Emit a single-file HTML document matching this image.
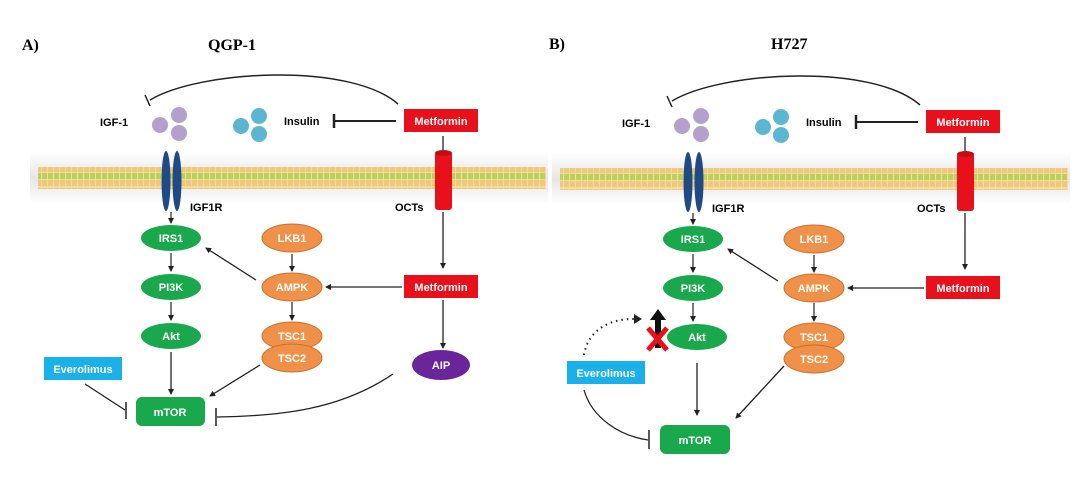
<!DOCTYPE html>
<html><head><meta charset="utf-8"><style>
html,body{margin:0;padding:0;background:#fff;}
svg{display:block;}
.t{font-family:"Liberation Sans",Arial,sans-serif;font-weight:bold;font-size:11px;}
.w{fill:#fff;font-family:"Liberation Sans",Arial,sans-serif;font-weight:bold;font-size:11px;text-anchor:middle;}
.h{font-family:"Liberation Serif",serif;font-weight:bold;font-size:16px;}
</style></head><body>
<svg width="1080" height="479" viewBox="0 0 1080 479" xmlns="http://www.w3.org/2000/svg">
<defs>
<marker id="ar" markerWidth="6" markerHeight="6" refX="5" refY="3" orient="auto" markerUnits="userSpaceOnUse"><path d="M0,0 L6,3 L0,6 z" fill="#222"/></marker>
<pattern id="mem" width="6" height="22" patternUnits="userSpaceOnUse">
<rect width="6" height="22" fill="#f3dca0"/>
<rect x="0" y="0" width="5" height="3" fill="#b9d35a"/>
<rect x="0" y="4" width="5" height="6" fill="#f1c77c"/>
<rect x="0" y="12" width="5" height="6" fill="#f1c77c"/>
<rect x="0" y="19" width="5" height="3" fill="#b9d35a"/>
</pattern>
<linearGradient id="glow" x1="0" y1="0" x2="0" y2="1">
<stop offset="0" stop-color="#fff"/><stop offset="0.5" stop-color="#e6e6e6"/><stop offset="1" stop-color="#fff"/>
</linearGradient>
<g id="panel">
<rect x="30" y="152" width="518" height="52" fill="url(#glow)"/>
<rect x="38" y="167" width="508" height="22" fill="url(#mem)"/>
<!-- arc inhibit -->
<path d="M398,104 C350,62 200,70 150,100" fill="none" stroke="#222" stroke-width="1.5"/>
<line x1="145" y1="95" x2="150" y2="106" stroke="#222" stroke-width="1.5"/>
<text class="t" x="100" y="126">IGF-1</text>
<circle cx="160" cy="125" r="8" fill="#b3a0cc"/><circle cx="179" cy="115" r="8" fill="#b3a0cc"/><circle cx="179" cy="133" r="8" fill="#b3a0cc"/>
<circle cx="241" cy="126" r="8" fill="#5bb6d0"/><circle cx="259" cy="116" r="8" fill="#5bb6d0"/><circle cx="259" cy="134" r="8" fill="#5bb6d0"/>
<text class="t" x="284" y="125">Insulin</text>
<line x1="334" y1="121" x2="396" y2="121" stroke="#222" stroke-width="2"/>
<line x1="334" y1="114" x2="334" y2="128" stroke="#222" stroke-width="2.5"/>
<rect x="404" y="109" width="74" height="23" fill="#e8101a"/>
<text class="w" x="441" y="125">Metformin</text>
<line x1="443" y1="136" x2="443" y2="155" stroke="#222" stroke-width="1.3"/>
<rect x="435" y="152" width="17" height="58" rx="3" fill="#e8101a"/>
<ellipse cx="443.5" cy="153" rx="8.5" ry="3" fill="#c40c12"/>
<line x1="443" y1="212" x2="443" y2="268" stroke="#222" stroke-width="1.3" marker-end="url(#ar)"/>
<text class="t" x="395" y="211">OCTs</text>
<ellipse cx="166" cy="181" rx="4.5" ry="30" fill="#1f4a86"/>
<ellipse cx="177" cy="181" rx="4.5" ry="30" fill="#1f4a86"/>
<text class="t" x="190" y="211">IGF1R</text>
<line x1="171" y1="212" x2="171" y2="223" stroke="#222" stroke-width="1.2" marker-end="url(#ar)"/>
<ellipse cx="171" cy="238" rx="30" ry="13" fill="#1aa84d"/><text class="w" x="171" y="242">IRS1</text>
<line x1="171" y1="253" x2="171" y2="271" stroke="#222" stroke-width="1.2" marker-end="url(#ar)"/>
<ellipse cx="171" cy="287" rx="30" ry="13" fill="#1aa84d"/><text class="w" x="171" y="291">PI3K</text>
<line x1="171" y1="302" x2="171" y2="320" stroke="#222" stroke-width="1.2" marker-end="url(#ar)"/>
<ellipse cx="292" cy="238" rx="30" ry="14" fill="#f0914a" stroke="#c8712e"/><text class="w" x="292" y="242">LKB1</text>
<line x1="292" y1="254" x2="292" y2="271" stroke="#222" stroke-width="1.2" marker-end="url(#ar)"/>
<ellipse cx="292" cy="287" rx="30" ry="14" fill="#f0914a" stroke="#c8712e"/><text class="w" x="292" y="291">AMPK</text>
<line x1="292" y1="302" x2="292" y2="320" stroke="#222" stroke-width="1.2" marker-end="url(#ar)"/>
<ellipse cx="292" cy="336" rx="30" ry="14" fill="#f0914a" stroke="#c8712e"/><text class="w" x="292" y="340">TSC1</text>
<ellipse cx="292" cy="358" rx="30" ry="14" fill="#f0914a" stroke="#c8712e"/><text class="w" x="292" y="362">TSC2</text>
<line x1="256" y1="280" x2="206" y2="248" stroke="#222" stroke-width="1.3" marker-end="url(#ar)"/>
<rect x="404" y="275" width="74" height="23" fill="#e8101a"/>
<text class="w" x="441" y="291">Metformin</text>
<line x1="402" y1="287" x2="326" y2="287" stroke="#222" stroke-width="1.3" marker-end="url(#ar)"/>
</g>
</defs>
<text class="h" x="22" y="50">A)</text>
<text class="h" x="208" y="50">QGP-1</text>
<text class="h" x="549" y="49">B)</text>
<text class="h" x="771" y="49">H727</text>

<use href="#panel"/>
<!-- A specifics -->
<ellipse cx="171" cy="336" rx="30" ry="13" fill="#1aa84d"/><text class="w" x="171" y="340">Akt</text>
<line x1="171" y1="352" x2="171" y2="394" stroke="#222" stroke-width="1.3" marker-end="url(#ar)"/>
<rect x="136" y="397" width="69" height="29" rx="6" fill="#1aa84d"/><text class="w" x="170" y="416">mTOR</text>
<line x1="260" y1="365" x2="210" y2="396" stroke="#222" stroke-width="1.3" marker-end="url(#ar)"/>
<rect x="44" y="357" width="78" height="23" fill="#1ab0ea"/><text class="w" x="83" y="373">Everolimus</text>
<line x1="85" y1="384" x2="125" y2="410" stroke="#222" stroke-width="1.3"/>
<line x1="126" y1="402" x2="126" y2="419" stroke="#222" stroke-width="1.5"/>
<line x1="443" y1="300" x2="443" y2="348" stroke="#222" stroke-width="1.3" marker-end="url(#ar)"/>
<ellipse cx="441" cy="365" rx="29" ry="15" fill="#6a259a"/><text class="w" x="441" y="369">AIP</text>
<path d="M393,374 C340,410 280,416 217,417" fill="none" stroke="#222" stroke-width="1.3"/>
<line x1="216" y1="408" x2="216" y2="426" stroke="#222" stroke-width="1.5"/>

<g transform="translate(522,1)"><use href="#panel"/></g>
<!-- B specifics -->
<ellipse cx="697" cy="337" rx="30" ry="13" fill="#1aa84d"/><text class="w" x="697" y="341">Akt</text>
<line x1="697" y1="363" x2="697" y2="415" stroke="#222" stroke-width="1.3" marker-end="url(#ar)"/>
<rect x="660" y="425" width="70" height="29" rx="6" fill="#1aa84d"/><text class="w" x="695" y="444">mTOR</text>
<line x1="784" y1="366" x2="736" y2="418" stroke="#222" stroke-width="1.3" marker-end="url(#ar)"/>
<rect x="567" y="361" width="78" height="23" fill="#1ab0ea"/><text class="w" x="606" y="377">Everolimus</text>
<path d="M584,390 C592,418 620,436 648,440" fill="none" stroke="#222" stroke-width="1.3"/>
<line x1="649" y1="430" x2="649" y2="449" stroke="#222" stroke-width="1.5"/>
<path d="M584,355 C588,330 610,318 636,319" fill="none" stroke="#222" stroke-width="2" stroke-dasharray="1.5,4"/>
<path d="M634,314 L642,319 L634,324 z" fill="#222"/>
<path d="M658,309 L666,320 L661,320 L661,348 L655,348 L655,320 L650,320 z" fill="#111"/>
<path d="M648,328 L667,350 M667,328 L648,350" stroke="#e8101a" stroke-width="5"/>
</svg>
</body></html>
